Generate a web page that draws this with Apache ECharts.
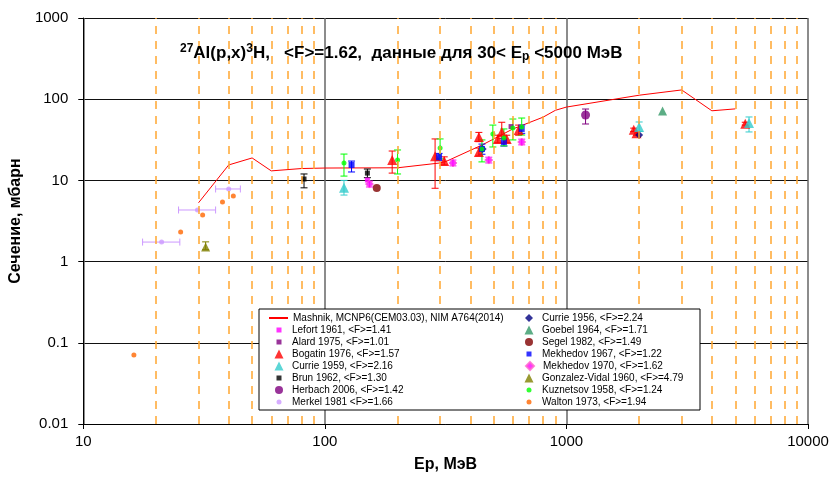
<!DOCTYPE html>
<html>
<head>
<meta charset="utf-8">
<script src="https://cdn.jsdelivr.net/npm/echarts@6/dist/echarts.min.js"></script>
<style>
  html, body { margin: 0; padding: 0; background: #fff; }
  #chart { width: 832px; height: 478px; }
</style>
</head>
<body>
<div id="chart"></div>
<script>
// Tritium production cross section on 27Al: MCNP6 (CEM03.03) calculation vs. measurements.

// Axis tick labels
const xTickLabels = ['10', '100', '1000', '10000'];
const yTickLabels = ['0.01', '0.1', '1', '10', '100', '1000'];
// Minor dashed grid positions, MeV
const xMinorLines = [20, 30, 40, 50, 60, 70, 80, 90, 200, 300, 400, 500, 600, 700, 800, 900,
                     2000, 3000, 4000, 5000, 6000, 7000, 8000, 9000];

// Mashnik, MCNP6 (CEM03.03): proton energy (MeV) and cross section (mb)
const modelE     = [30, 40, 50, 60, 80, 100, 200, 300, 320, 450, 600, 800, 900, 1000, 2000, 3000, 4000, 5000];
const modelSigma = [5.3, 15.5, 18.9, 13.1, 14.0, 14.2, 14.3, 16.4, 17.3, 27.5, 43, 60, 73, 80, 112, 130, 72, 76];

// Measurements: [E (MeV), sigma (mb), low, high]; low/high are the error bar ends
const lefort1961    = [[150, 10.1]];
const alard1975     = [[590, 46]];
const bogatin1976   = [[190, 17.8, 12.3, 23.0], [286, 19.9, 8.0, 32.4], [312, 17.3, 15.5, 19.5],
                       [434, 34.2, 30, 39], [434, 22.4, 20, 25], [520, 32.4, 29, 36], [540, 39.5, 33, 52],
                       [566, 32.4, 29, 36], [634, 41.8, 36, 48], [1900, 42, 40, 44], [1950, 38, 36, 40],
                       [5500, 50, 48, 52]];
const currie1959    = [[120, 8.1, 6.6, 10.0], [2000, 45.5, 40, 52.4], [5700, 50.9, 39.5, 60.4]];
const brun1962      = [[82, 10.4, 8.1, 12.0], [150, 12.3, 10.8, 13.8]];
const herbach2006   = [[1200, 63.8, 49.5, 75.7]];
const currie1956    = [[450, 24.4], [2000, 36.2]];
const goebel1964    = [[2500, 71.6]];
const segel1982     = [[164, 8.05]];
const mekhedov1967  = [[129, 15.5, 12.7, 17.3], [297, 19.4, 17.5, 21.5], [447, 24.4, 21, 28],
                       [551, 29.7, 26.5, 33], [653, 43, 38, 48]];
const mekhedov1970  = [[153, 9.0, 8.3, 9.8], [339, 16.4, 15.1, 17.8], [477, 17.8, 16.4, 19.3], [653, 29.7, 27.4, 32.2]];
const gonzalez1960  = [[32.1, 1.51, 1.40, 1.75]];
const kuznetsov1958 = [[120, 16.4, 11.3, 21.1], [200, 17.8, 12.0, 23.7], [300, 25.1, 18.4, 32.4],
                       [447, 24.4, 16.9, 31.5], [496, 37.2, 25.8, 48], [551, 33.3, 26.6, 43],
                       [600, 44.1, 31.5, 57], [653, 45.5, 36.2, 58.6]];
const walton1973    = [[16.2, 0.071], [25.3, 2.32], [31.2, 3.75], [37.7, 5.42], [41.8, 6.43]];
// Merkel 1981: [E, sigma, E low, E high] (horizontal bars)
const merkel1981    = [[21.1, 1.74, 17.6, 25.1], [29.7, 4.32, 24.8, 35.3], [40, 7.84, 35.3, 44.7]];

const modelName = 'Mashnik, MCNP6(CEM03.03), NIM A764(2014)';

const FONT = 'Arial, "Liberation Sans", sans-serif';

const sets = [
  { name: 'Lefort 1961, <F>=1.41',          rows: lefort1961,    symbol: 'rect',     size: 5,  legend: 5, color: '#FF00FF' },
  { name: 'Alard 1975, <F>=1.01',           rows: alard1975,     symbol: 'rect',     size: 5,  legend: 5, color: '#800080' },
  { name: 'Bogatin 1976, <F>=1.57',         rows: bogatin1976,   symbol: 'triangle', size: 10, legend: 9, color: '#FF0000' },
  { name: 'Currie 1959, <F>=2.16',          rows: currie1959,    symbol: 'triangle', size: 10, legend: 9, color: '#33CCCC' },
  { name: 'Brun 1962, <F>=1.30',            rows: brun1962,      symbol: 'rect',     size: 5,  legend: 5, color: '#000000' },
  { name: 'Herbach 2006, <F>=1.42',         rows: herbach2006,   symbol: 'circle',   size: 9,  legend: 8, color: '#800080' },
  { name: 'Merkel 1981 <F>=1.66',           rows: merkel1981,    symbol: 'circle',   size: 5,  legend: 5, color: '#CC99FF', dir: 'x' },
  { name: 'Currie 1956, <F>=2.24',          rows: currie1956,    symbol: 'diamond',  size: 8,  legend: 8, color: '#000080' },
  { name: 'Goebel 1964, <F>=1.71',          rows: goebel1964,    symbol: 'triangle', size: 9,  legend: 9, color: '#339966' },
  { name: 'Segel 1982, <F>=1.49',           rows: segel1982,     symbol: 'circle',   size: 8,  legend: 8, color: '#800000' },
  { name: 'Mekhedov 1967, <F>=1.22',        rows: mekhedov1967,  symbol: 'rect',     size: 6,  legend: 5, color: '#0000FF' },
  { name: 'Mekhedov 1970, <F>=1.62',        rows: mekhedov1970,  symbol: 'diamond',  size: 8,  legend: 8, color: '#FF00FF', border: '#FF66CC' },
  { name: 'Gonzalez-Vidal 1960, <F>=4.79',  rows: gonzalez1960,  symbol: 'triangle', size: 9,  legend: 9, color: '#808000' },
  { name: 'Kuznetsov 1958, <F>=1.24',       rows: kuznetsov1958, symbol: 'circle',   size: 5,  legend: 5, color: '#00FF00' },
  { name: 'Walton 1973, <F>=1.94',          rows: walton1973,    symbol: 'circle',   size: 5,  legend: 5, color: '#FF6600' }
];

const legendLeftCol  = [modelName, 'Lefort 1961, <F>=1.41', 'Alard 1975, <F>=1.01', 'Bogatin 1976, <F>=1.57',
                        'Currie 1959, <F>=2.16', 'Brun 1962, <F>=1.30', 'Herbach 2006, <F>=1.42', 'Merkel 1981 <F>=1.66'];
const legendRightCol = ['Currie 1956, <F>=2.24', 'Goebel 1964, <F>=1.71', 'Segel 1982, <F>=1.49', 'Mekhedov 1967, <F>=1.22',
                        'Mekhedov 1970, <F>=1.62', 'Gonzalez-Vidal 1960, <F>=4.79', 'Kuznetsov 1958, <F>=1.24', 'Walton 1973, <F>=1.94'];

// Error bars (vertical by default, horizontal for dir 'x')
function errorBars(set) {
  const rows = set.rows.filter(r => r.length === 4 && r[2] !== r[3]);
  const dir = set.dir || 'y';
  const cap = 3.5;
  return {
    type: 'custom',
    name: set.name + ' (errors)',
    silent: true,
    z: 2,
    data: rows,
    encode: { x: 0, y: 1 },
    renderItem: function (params, api) {
      const x = api.value(0), y = api.value(1), lo = api.value(2), hi = api.value(3);
      let segs;
      if (dir === 'x') {
        const a = api.coord([lo, y]), b = api.coord([hi, y]);
        segs = [[a[0], a[1], b[0], b[1]], [a[0], a[1] - cap, a[0], a[1] + cap], [b[0], b[1] - cap, b[0], b[1] + cap]];
      } else {
        const a = api.coord([x, lo]), b = api.coord([x, hi]);
        segs = [[a[0], a[1], b[0], b[1]], [a[0] - cap, a[1], a[0] + cap, a[1]], [b[0] - cap, b[1], b[0] + cap, b[1]]];
      }
      return {
        type: 'group',
        children: segs.map(s => ({
          type: 'line',
          shape: { x1: s[0], y1: s[1], x2: s[2], y2: s[3] },
          style: { stroke: set.color, lineWidth: 1 }
        }))
      };
    }
  };
}

const series = [{
  name: modelName,
  type: 'line',
  data: modelE.map((e, i) => [e, modelSigma[i]]),
  symbol: 'none',
  lineStyle: { color: '#FF0000', width: 1 },
  itemStyle: { color: '#FF0000' },
  z: 1,
  markLine: {
    silent: true,
    symbol: 'none',
    label: { show: false },
    lineStyle: { color: '#FFA630', width: 1.5, type: [8, 7] },
    data: xMinorLines.map(v => ({ xAxis: v }))
  }
}];

sets.forEach(set => {
  series.push(errorBars(set));
  series.push({
    name: set.name,
    type: 'scatter',
    data: set.rows.map(r => [r[0], r[1]]),
    symbol: set.symbol,
    symbolSize: set.size,
    z: 3,
    itemStyle: set.border
      ? { color: set.color, borderColor: set.border, borderWidth: 1 }
      : { color: set.color }
  });
});

const legendSize = {};
sets.forEach(s => { legendSize[s.name] = s.legend; });

// Legend rows: each entry is its own component so every marker keeps its own size
const rowTops = [313, 325, 337, 349, 361, 373, 385, 397];
function legendEntry(name, iconCenter, textStart, top) {
  const sz = legendSize[name];
  const w = sz ? sz : 19;
  const h = sz ? sz : 2;
  const left = sz ? iconCenter - sz / 2 : textStart - 5 - 19;
  const pad = Math.max(0, textStart - (left + w + 5));
  return {
    data: [name],
    left: left,
    top: top,
    padding: 0,
    itemWidth: w,
    itemHeight: h,
    selectedMode: false,
    z: 10,
    textStyle: { fontSize: 10, fontFamily: FONT, color: '#000', padding: [0, 0, 0, pad] }
  };
}
const legends = [];
legendLeftCol.forEach((n, i) => legends.push(legendEntry(n, 279, 292, rowTops[i])));
legendRightCol.forEach((n, i) => legends.push(legendEntry(n, 529, 542, rowTops[i])));

const chart = echarts.init(document.getElementById('chart'), null, { renderer: 'canvas' });
chart.setOption({
  animation: false,
  backgroundColor: '#fff',
  grid: { left: 79, right: 24, top: 18, bottom: 54 },
  title: {
    text: '{sup|27}{m|Al(p,x)}{sup|3}{m|H,   <F>=1.62,  данные для 30< E}{sub|p}{m| <5000 МэВ}',
    left: 180,
    top: 43,
    padding: 0,
    textStyle: {
      rich: {
        m:   { fontSize: 17, fontWeight: 'bold', fontFamily: FONT, color: '#000', lineHeight: 20 },
        sup: { fontSize: 12, fontWeight: 'bold', fontFamily: FONT, color: '#000', lineHeight: 11, verticalAlign: 'top' },
        sub: { fontSize: 12, fontWeight: 'bold', fontFamily: FONT, color: '#000', lineHeight: 11, verticalAlign: 'bottom' }
      }
    }
  },
  legend: legends,
  graphic: [{
    type: 'rect',
    shape: { x: 259, y: 309, width: 441, height: 101 },
    style: { fill: '#fff', stroke: '#000', lineWidth: 1 },
    z: 9,
    silent: true
  }],
  xAxis: {
    type: 'log',
    logBase: 10,
    min: 10,
    max: 10000,
    name: 'Ep, МэВ',
    nameLocation: 'middle',
    nameGap: 33,
    nameTextStyle: { fontSize: 16, fontWeight: 'bold', fontFamily: FONT, color: '#000' },
    axisLine: { show: true, onZero: false, lineStyle: { color: '#000', width: 1 } },
    axisTick: { show: true, length: 5, lineStyle: { color: '#000' } },
    axisLabel: {
      fontSize: 15, fontFamily: FONT, color: '#000', margin: 10,
      formatter: v => xTickLabels[Math.round(Math.log10(v)) - 1]
    },
    splitLine: { show: true, lineStyle: { color: '#666', width: 1.5 } }
  },
  yAxis: {
    type: 'log',
    logBase: 10,
    min: 0.01,
    max: 1000,
    name: 'Сечение, мбарн',
    nameLocation: 'middle',
    nameGap: 53,
    nameTextStyle: { fontSize: 16, fontWeight: 'bold', fontFamily: FONT, color: '#000' },
    axisLine: { show: true, onZero: false, lineStyle: { color: '#000', width: 1 } },
    axisTick: { show: true, length: 5, lineStyle: { color: '#000' } },
    axisLabel: {
      fontSize: 15, fontFamily: FONT, color: '#000', margin: 15,
      formatter: v => yTickLabels[Math.round(Math.log10(v)) + 2]
    },
    splitLine: { show: true, lineStyle: { color: '#111', width: 1 } }
  },
  series: series
});
</script>
</body>
</html>
